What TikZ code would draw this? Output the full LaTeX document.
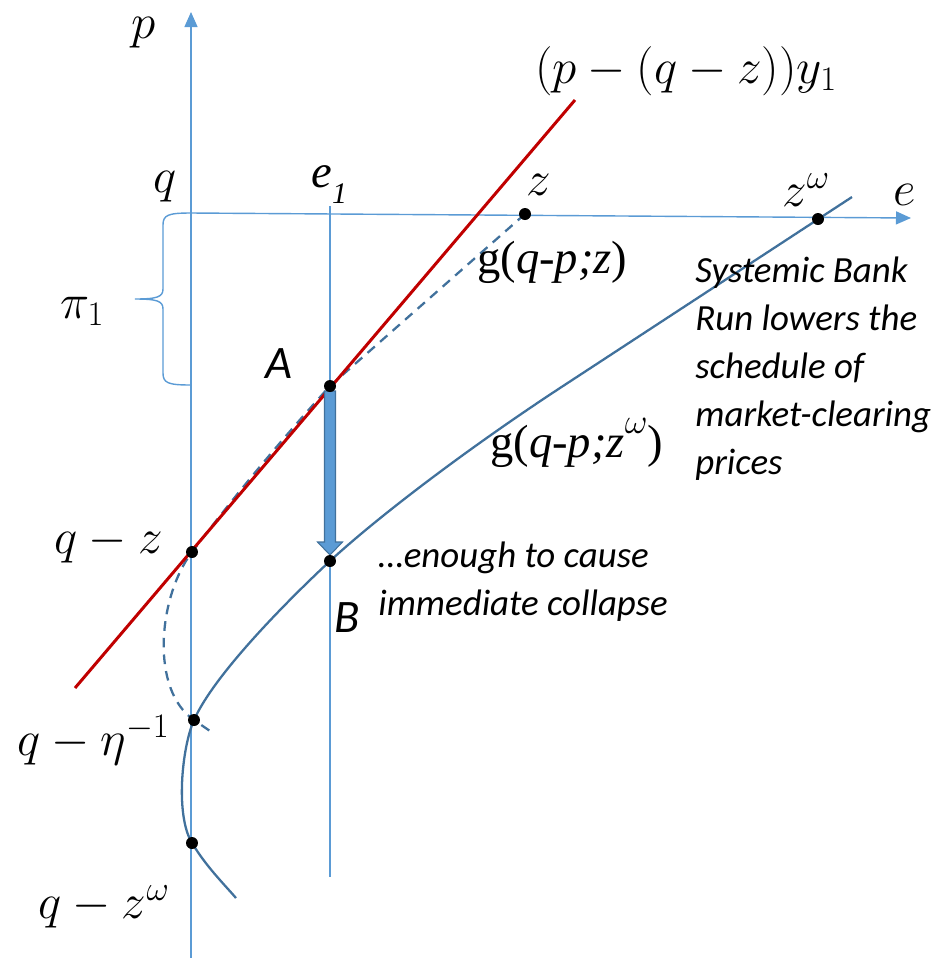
\RequirePackage{fix-cm}
\documentclass[tikz,border=0pt]{standalone}
\usepackage{fontspec}
\newfontfamily\calib{Carlito}
\newfontfamily\tms{Liberation Serif}
\usetikzlibrary{arrows.meta,calc}
\definecolor{axblue}{HTML}{5B9BD5}
\definecolor{cvblue}{HTML}{41719C}
\definecolor{payred}{HTML}{C00000}
\tikzset{
  axis/.style={draw=axblue, line width=0.8pt},
  axarr/.style={axis, -{Triangle[length=3mm,width=2.6mm]}},
  guide/.style={draw=axblue, line width=0.6pt},
  gcurve/.style={draw=cvblue, line width=1.3pt},
  gdash/.style={gcurve, dash pattern=on 5.5pt off 4pt},
  payline/.style={draw=payred, line width=1.7pt},
  dot/.style={circle, fill=black, minimum size=2.4mm, inner sep=0pt},
  mlab/.style={font=\fontsize{28}{32}\selectfont, inner sep=0pt},
  glab/.style={font=\tms\fontsize{26.5}{30}\selectfont, inner sep=0pt},
  ptlab/.style={font=\calib\itshape\fontsize{26.5}{30}\selectfont, inner sep=0pt},
  note/.style={font=\calib\itshape\fontsize{21}{27.3}\selectfont, align=left, inner sep=0pt},
  fatarrow/.style={fill=axblue, draw=cvblue, line width=0.6pt}
}

\begin{document}
\begin{tikzpicture}[x=0.02cm, y=-0.02cm]
  \useasboundingbox (0,0) rectangle (942,958);
  \coordinate (pbot) at (191,958);
  \coordinate (ptop) at (191,12);
  \coordinate (eleft) at (191,213);
  \coordinate (eright) at (911,218);
  \coordinate (e1top) at (330,206);
  \coordinate (e1bot) at (330,877);
  \coordinate (pibot) at (191,385);
  \coordinate (pitip) at (135,299);
  \coordinate (r0) at (75,688);
  \coordinate (r1) at (575,100);
  \coordinate (gwtop) at (852,197);
  \coordinate (gwend) at (236,898);
  \coordinate (gend) at (210,731);
  \coordinate (z) at (525,214);
  \coordinate (zw) at (818,219);
  \coordinate (A) at (330,386);
  \coordinate (B) at (330,561);
  \coordinate (qz) at (192,552);
  \coordinate (qeta) at (194,720);
  \coordinate (qzw) at (192,843);

  \draw[axarr] (pbot) -- (ptop);
  \draw[axarr] (eleft) -- (eright);
  \draw[guide] (e1top) -- (e1bot);
  \draw[axis] (eleft) .. controls (168,213) and (163,215) .. (163,225) -- (163,289)
    .. controls (163,297) and (157,299) .. (pitip)
    .. controls (157,299) and (163,301) .. (163,309) -- (163,373)
    .. controls (163,383) and (168,385) .. (pibot);

  \draw[gdash] (z) -- (A) .. controls (283,438) and (236,494) .. (qz)
    .. controls (158,597) and (150,690) .. (qeta) -- (gend);
  \draw[gcurve] (gwtop) -- (560,388) .. controls (470,447) and (380,515) .. (B)
    .. controls (285,603) and (214,675) .. (qeta)
    .. controls (182,747) and (175,815) .. (qzw)
    .. controls (206,866) and (222,882) .. (gwend);
  \draw[payline] (r0) -- (r1);
  \draw[fatarrow] ($(A)+(-5.5,5)$) -- ($(B)+(-5.5,-19)$) -- ($(B)+(-12.5,-19)$)
    -- ($(B)+(0,-6)$) -- ($(B)+(12.5,-19)$) -- ($(B)+(5.5,-19)$) -- ($(A)+(5.5,5)$) -- cycle;

  \foreach \p in {z,zw,A,B,qz,qeta,qzw}
    \node[dot] (d\p) at (\p) {};

  \node[mlab, anchor=base] (plab) at (144,38) {$p$};
  \node[mlab, anchor=base] (qlab) at (165,192) {$q$};
  \node[glab, anchor=base west] (e1lab) at (311,187) {\itshape e\raisebox{-0.35em}{\fontsize{17}{17}\selectfont 1}};
  \node[mlab, anchor=base] (zlab) at (539,195) {$z$};
  \node[mlab, anchor=base west] (zwlab) at (782,206) {$z^{\omega}$};
  \node[mlab, anchor=base] (elab) at (905,205) {$e$};
  \node[mlab, anchor=base] (paylab) at (686,83) {$(p-(q-z))y_1$};
  \node[mlab, anchor=base west] (pilab) at (60,318) {$\pi_1$};
  \node[ptlab, anchor=base] (Alab) at (279,378) {A};
  \node[ptlab, anchor=base] (Blab) at (347,632) {B};
  \node[mlab, anchor=base east] (qzlab) at (163,553) {$q-z$};
  \node[mlab, anchor=base east] (qetalab) at (170,755) {$q-\eta^{-1}$};
  \node[mlab, anchor=base east] (qzwlab) at (170,918) {$q-z^{\omega}$};
  \node[glab, anchor=base west] (glabz) at (477,273) {g(\textit{q-p;z})};
  \node[glab, anchor=base west] (glabzw) at (490,457) {g(\textit{q-p;z}\raisebox{0.5em}{\fontsize{20}{20}\selectfont$\omega$})};
  \node[note, anchor=north west] (runnote) at (695,257) {Systemic Bank\\Run lowers the\\schedule of\\market-clearing\\prices};
  \node[note, anchor=north west] (collnote) at (378,542) {…enough to cause\\immediate collapse};
\end{tikzpicture}
\end{document}
